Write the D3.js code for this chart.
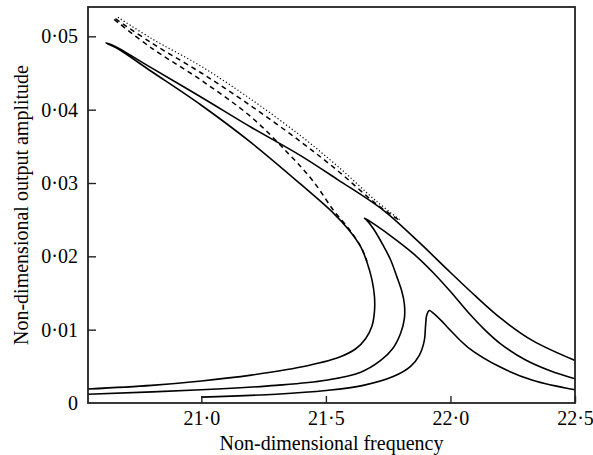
<!DOCTYPE html>
<html><head><meta charset="utf-8">
<script src="https://cdn.jsdelivr.net/npm/d3@7"></script>
<style>
body{margin:0;background:#fff;}
svg{display:block;font-family:"Liberation Serif","Times New Roman",serif;}
</style></head>
<body><svg id="c" width="593" height="455"></svg>
<script>
// ---- data ----
const xTicks = [21.0, 21.5, 22.0, 22.5];
const xTickLabels = ["21·0", "21·5", "22·0", "22·5"];
const yTicks = [0, 0.01, 0.02, 0.03, 0.04, 0.05];
const yTickLabels = ["0", "0·01", "0·02", "0·03", "0·04", "0·05"];
const xTitle = "Non-dimensional frequency";
const yTitle = "Non-dimensional output amplitude";

// solid response curves: [frequency, amplitude]
const curveA = [
  [20.545,0.0019],[20.8,0.0024],[21.0,0.0030],[21.2,0.0038],[21.4,0.0049],[21.55,0.0062],
  [21.62,0.0074],[21.66,0.0088],[21.685,0.0105],[21.695,0.0125],[21.695,0.0145],
  [21.685,0.0168],[21.665,0.0192],[21.64,0.0213],[21.59,0.0237],[21.53,0.0259],[21.4,0.0298],
  [21.2,0.0355],[21.0,0.0406],[20.8,0.0452],[20.66,0.0484],[20.617,0.0491],
  [20.65,0.0487],[20.8,0.0457],[21.0,0.0417],[21.2,0.0376],[21.4,0.0337],[21.55,0.0304],
  [21.73,0.0263],[21.865,0.0222],[22.0,0.0178],[22.1,0.0146],[22.2,0.0116],[22.33,0.0085],[22.5,0.0058]
];
const curveB = [
  [20.545,0.0012],[21.0,0.0018],[21.3,0.0024],[21.5,0.0031],[21.64,0.0042],[21.72,0.0058],
  [21.77,0.0075],[21.8,0.0095],[21.815,0.0115],[21.815,0.0135],
  [21.805,0.0152],[21.785,0.0172],[21.76,0.0195],[21.73,0.0215],[21.69,0.0238],[21.662,0.0250],[21.655,0.0252],
  [21.68,0.0247],[21.76,0.0228],[21.85,0.0204],[21.93,0.0178],[22.0,0.0152],[22.07,0.0124],
  [22.14,0.0099],[22.2,0.0081],[22.3,0.0059],[22.4,0.0044],[22.5,0.0033]
];
const curveC = [
  [21.0,0.0008],[21.3,0.0012],[21.5,0.0017],[21.65,0.0024],[21.77,0.0036],[21.84,0.0050],
  [21.875,0.0065],[21.895,0.0085],[21.9,0.0105],[21.905,0.0120],[21.915,0.0126],[21.93,0.0123],
  [21.97,0.0110],[22.0,0.0099],[22.07,0.0076],[22.2,0.0049],[22.33,0.0031],[22.5,0.0018]
];
// approximate solutions (broken lines)
const dashUpper = [
  [20.655,0.0524],[20.8,0.0491],[21.0,0.0450],[21.2,0.0405],[21.4,0.0356],[21.55,0.0316],[21.7,0.0272],[21.8,0.0248]
];
const dashLower = [
  [20.65,0.0523],[20.8,0.0484],[21.0,0.0440],[21.2,0.0390],[21.35,0.0340],[21.45,0.0302],[21.53,0.0263],[21.6,0.0234],[21.645,0.0210],[21.665,0.0193]
];
const dotted = [
  [20.665,0.0526],[20.8,0.0497],[21.0,0.0459],[21.2,0.0414],[21.4,0.0364],[21.55,0.0322],[21.7,0.0276],[21.8,0.0249]
];

// ---- drawing ----
const L=88, R=575, T=7, B=403;
const svg = d3.select("#c");
const x = d3.scaleLinear().domain([20.545, 22.5]).range([L, R]);
const y = d3.scaleLinear().domain([0, 0.054]).range([B, T]);
const line = d3.line().x(d=>x(d[0])).y(d=>y(d[1])).curve(d3.curveCatmullRom.alpha(0.5));

const g = svg.append("g");
g.append("clipPath").attr("id","clip").append("rect").attr("x",L).attr("y",T).attr("width",R-L).attr("height",B-T);
const plot = g.append("g").attr("clip-path","url(#clip)");

[curveA, curveB, curveC].forEach(c=>{
  plot.append("path").attr("d", line(c)).attr("fill","none").attr("stroke","#000").attr("stroke-width",1.6);
});
plot.append("path").attr("d", line(dashUpper)).attr("fill","none").attr("stroke","#000").attr("stroke-width",1.5).attr("stroke-dasharray","5,4");
plot.append("path").attr("d", line(dashLower)).attr("fill","none").attr("stroke","#000").attr("stroke-width",1.5).attr("stroke-dasharray","5,4");
plot.append("path").attr("d", line(dotted)).attr("fill","none").attr("stroke","#000").attr("stroke-width",1.2).attr("stroke-dasharray","1.2,2.3");

// axes (ticks inward)
const xAxis = d3.axisBottom(x).tickValues(xTicks).tickSize(-7).tickPadding(8)
  .tickFormat((d,i)=>xTickLabels[i]);
const yAxis = d3.axisLeft(y).tickValues(yTicks).tickSize(-8).tickPadding(10)
  .tickFormat((d,i)=>yTickLabels[i]);
const gx = svg.append("g").attr("transform",`translate(0,${B})`).call(xAxis);
const gy = svg.append("g").attr("transform",`translate(${L},0)`).call(yAxis);
[gx,gy].forEach(a=>{
  a.select(".domain").remove();
  a.selectAll(".tick line").attr("stroke","#222").attr("stroke-width",1.4);
  a.selectAll(".tick text").attr("font-family","Liberation Serif, serif").attr("font-size",20).attr("fill","#000");
});
gy.selectAll(".tick").filter(d=>d===0).select("line").remove();

// frame
svg.append("rect").attr("x",L).attr("y",T).attr("width",R-L).attr("height",B-T)
  .attr("fill","none").attr("stroke","#222").attr("stroke-width",1.8);

// titles
svg.append("text").attr("x",(L+R)/2).attr("y",450).attr("text-anchor","middle")
  .attr("font-size",20).text(xTitle);
svg.append("text").attr("transform",`translate(28,${(T+B)/2}) rotate(-90)`).attr("text-anchor","middle")
  .attr("font-size",20).text(yTitle);
</script></body></html>
